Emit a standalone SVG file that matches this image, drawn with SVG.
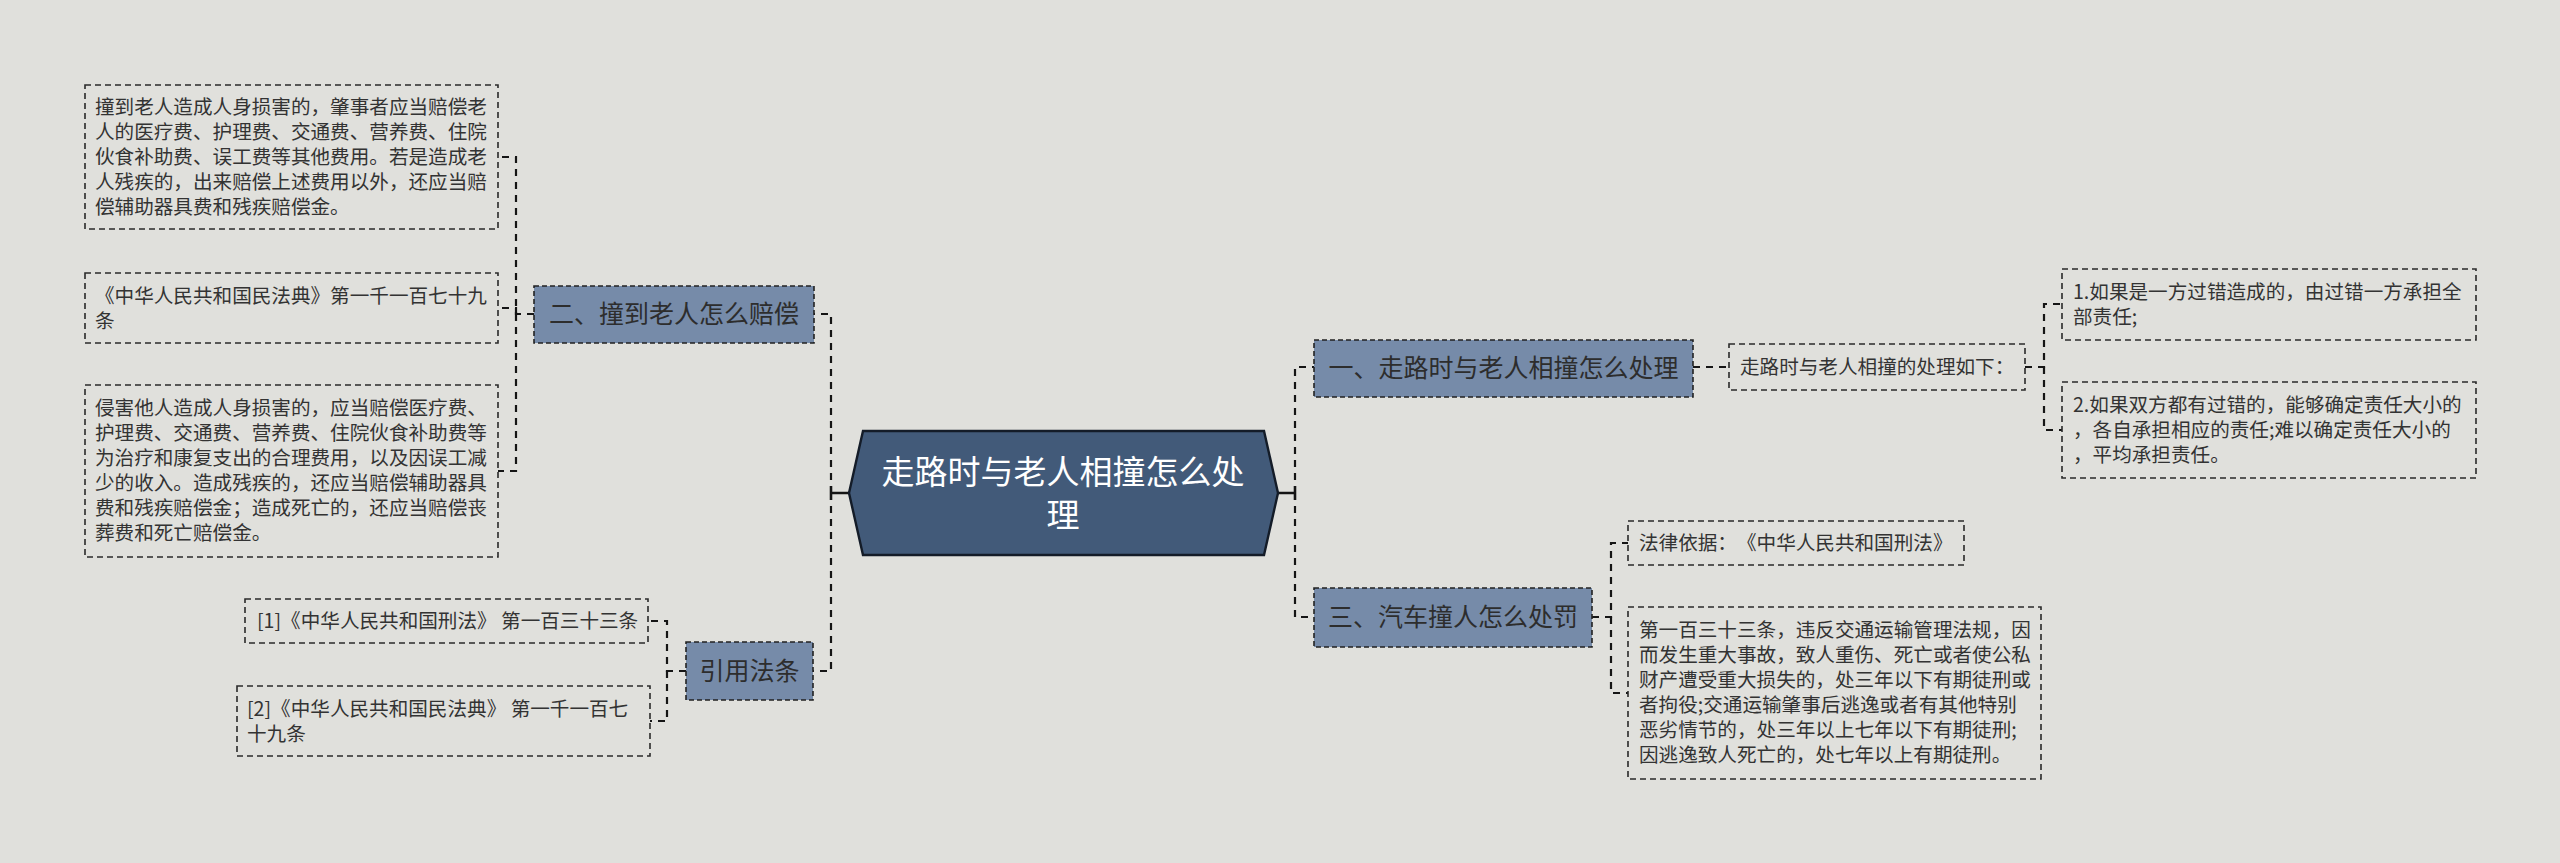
<svg xmlns="http://www.w3.org/2000/svg" width="2560" height="863" viewBox="0 0 2560 863">
<style>
.bg{fill:#e0e0dc}
.leaf{fill:none;stroke:#2a2a2a;stroke-width:1.6;stroke-dasharray:6 4}
.main{fill:#768ba9;stroke:#222;stroke-width:1.6;stroke-dasharray:5 3}
text{text-spacing-trim:space-all}
.lt{font-family:"Noto Sans CJK SC","Noto Sans",sans-serif;font-size:19.6px;fill:#333}
.mt{font-family:"Noto Sans CJK SC","Noto Sans",sans-serif;font-size:25px;fill:#2d2d2d;text-anchor:middle}
.ct{font-family:"Noto Sans CJK SC","Noto Sans",sans-serif;font-size:33px;fill:#ffffff;text-anchor:middle}
.con{fill:none;stroke:#151515;stroke-width:2.2;stroke-dasharray:7 6}
.solid{fill:none;stroke:#151515;stroke-width:2.4}
</style>
<rect class="bg" x="0" y="0" width="2560" height="863"/>

<g id="connectors">
<path class="solid" d="M849 493 H831 M831 486 V500"/>
<path class="solid" d="M1278 493 H1295 M1295 486 V500"/>
<path class="con" d="M831 493 V314 H814"/>
<path class="con" d="M831 493 V671 H813"/>
<path class="con" d="M534 314 H516 V157 H498"/>
<path class="con" d="M516 314 V308 H498"/>
<path class="con" d="M516 314 V471 H498"/>
<path class="con" d="M686 671 H667 V621 H648"/>
<path class="con" d="M667 671 V721 H650"/>
<path class="con" d="M1295 493 V367 H1314"/>
<path class="con" d="M1295 493 V617 H1314"/>
<path class="con" d="M1693 367 H1729"/>
<path class="con" d="M2025 367 H2044 V304 H2062"/>
<path class="con" d="M2044 367 V430 H2062"/>
<path class="con" d="M1592 617 H1611 V543 H1628"/>
<path class="con" d="M1611 617 V693 H1628"/>
</g>

<g id="center">
<polygon points="849,493 863,431 1264,431 1278,493 1264,555 863,555" fill="#425a79" stroke="#141c28" stroke-width="2.4"/>
<text class="ct" x="1063" y="484">走路时与老人相撞怎么处</text>
<text class="ct" x="1063" y="527">理</text>
</g>

<g id="n2">
<rect class="main" x="534" y="286" width="280" height="57"/>
<text class="mt" x="674" y="323">二、撞到老人怎么赔偿</text>
</g>

<g id="n2a">
<rect class="leaf" x="85" y="85" width="413" height="144"/>
<text class="lt" x="95" y="114">撞到老人造成人身损害的，肇事者应当赔偿老</text>
<text class="lt" x="95" y="139">人的医疗费、护理费、交通费、营养费、住院</text>
<text class="lt" x="95" y="164">伙食补助费、误工费等其他费用。若是造成老</text>
<text class="lt" x="95" y="189">人残疾的，出来赔偿上述费用以外，还应当赔</text>
<text class="lt" x="95" y="214">偿辅助器具费和残疾赔偿金。</text>
</g>

<g id="n2b">
<rect class="leaf" x="85" y="273" width="413" height="70"/>
<text class="lt" x="95" y="303">《中华人民共和国民法典》第一千一百七十九</text>
<text class="lt" x="95" y="328">条</text>
</g>

<g id="n2c">
<rect class="leaf" x="85" y="385" width="413" height="172"/>
<text class="lt" x="95" y="415">侵害他人造成人身损害的，应当赔偿医疗费、</text>
<text class="lt" x="95" y="440">护理费、交通费、营养费、住院伙食补助费等</text>
<text class="lt" x="95" y="465">为治疗和康复支出的合理费用，以及因误工减</text>
<text class="lt" x="95" y="490">少的收入。造成残疾的，还应当赔偿辅助器具</text>
<text class="lt" x="95" y="515">费和残疾赔偿金；造成死亡的，还应当赔偿丧</text>
<text class="lt" x="95" y="540">葬费和死亡赔偿金。</text>
</g>

<g id="n4">
<rect class="main" x="686" y="642" width="127" height="58"/>
<text class="mt" x="749.5" y="680">引用法条</text>
</g>

<g id="n4a">
<rect class="leaf" x="245" y="599" width="403" height="44"/>
<text class="lt" x="257" y="628">[1]《中华人民共和国刑法》 第一百三十三条</text>
</g>

<g id="n4b">
<rect class="leaf" x="237" y="686" width="413" height="70"/>
<text class="lt" x="247" y="716">[2]《中华人民共和国民法典》 第一千一百七</text>
<text class="lt" x="247" y="741">十九条</text>
</g>

<g id="n1">
<rect class="main" x="1314" y="340" width="379" height="57"/>
<text class="mt" x="1503.5" y="377">一、走路时与老人相撞怎么处理</text>
</g>

<g id="n1a">
<rect class="leaf" x="1729" y="344" width="296" height="46"/>
<text class="lt" x="1740" y="374">走路时与老人相撞的处理如下：</text>
</g>

<g id="n1b">
<rect class="leaf" x="2062" y="269" width="414" height="71"/>
<text class="lt" x="2073" y="299">1.如果是一方过错造成的，由过错一方承担全</text>
<text class="lt" x="2073" y="324">部责任;</text>
</g>

<g id="n1c">
<rect class="leaf" x="2062" y="382" width="414" height="96"/>
<text class="lt" x="2073" y="412">2.如果双方都有过错的，能够确定责任大小的</text>
<text class="lt" x="2073" y="437">，各自承担相应的责任;难以确定责任大小的</text>
<text class="lt" x="2073" y="462">，平均承担责任。</text>
</g>

<g id="n3">
<rect class="main" x="1314" y="588" width="278" height="59"/>
<text class="mt" x="1453" y="626">三、汽车撞人怎么处罚</text>
</g>

<g id="n3a">
<rect class="leaf" x="1628" y="521" width="336" height="44"/>
<text class="lt" x="1639" y="550">法律依据：《中华人民共和国刑法》</text>
</g>

<g id="n3b">
<rect class="leaf" x="1628" y="607" width="413" height="172"/>
<text class="lt" x="1639" y="637">第一百三十三条，违反交通运输管理法规，因</text>
<text class="lt" x="1639" y="662">而发生重大事故，致人重伤、死亡或者使公私</text>
<text class="lt" x="1639" y="687">财产遭受重大损失的，处三年以下有期徒刑或</text>
<text class="lt" x="1639" y="712">者拘役;交通运输肇事后逃逸或者有其他特别</text>
<text class="lt" x="1639" y="737">恶劣情节的，处三年以上七年以下有期徒刑;</text>
<text class="lt" x="1639" y="762">因逃逸致人死亡的，处七年以上有期徒刑。</text>
</g>
</svg>
